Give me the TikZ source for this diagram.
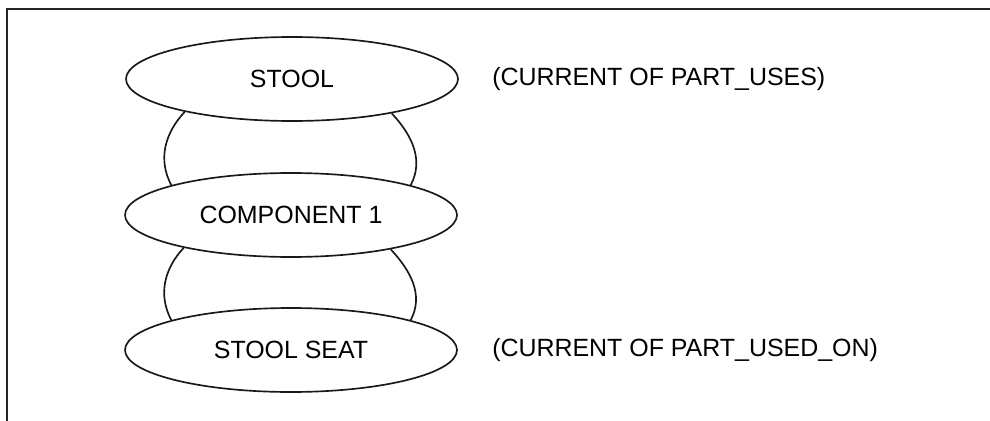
\documentclass[tikz,border=0pt]{standalone}
\usepackage{fontspec}
\setmainfont{Liberation Sans}
\usetikzlibrary{shapes.geometric}
\begin{document}
\begin{tikzpicture}[x=0.75pt,y=-0.75pt,
  ent/.style={draw=black!90, ellipse, fill=white, line width=1.25pt, minimum width=249pt, minimum height=63pt, inner sep=0pt, font=\fontsize{18.7}{20}\selectfont},
  lbl/.style={anchor=west, inner sep=0pt, font=\fontsize{18.7}{20}\selectfont},
  link/.style={line width=1.25pt, draw=black!90},
  frame/.style={line width=1.4pt, draw=black!85}]
\useasboundingbox (0,0) rectangle (990,421);
\coordinate (tl) at (7,9);
\coordinate (tr) at (990,9);
\coordinate (bl) at (7,421);
\draw[frame] (tr) -- (tl) -- (bl);
\node[ent] (stool) at (292,79) {STOOL};
\node[ent] (comp) at (291,215) {COMPONENT 1};
\node[ent] (seat) at (291,350) {STOOL SEAT};
\draw[link] (stool.197) to[out=227,in=118] (comp.166);
\draw[link] (stool.341) to[out=-47,in=62] (comp.14);
\draw[link] (comp.197) to[out=227,in=118] (seat.166);
\draw[link] (comp.341) to[out=-47,in=62] (seat.14);
\node[lbl] (uses) at (492,79) {(CURRENT OF PART\_USES)};
\node[lbl] (usedon) at (492,350) {(CURRENT OF PART\_USED\_ON)};
\end{tikzpicture}
\end{document}
